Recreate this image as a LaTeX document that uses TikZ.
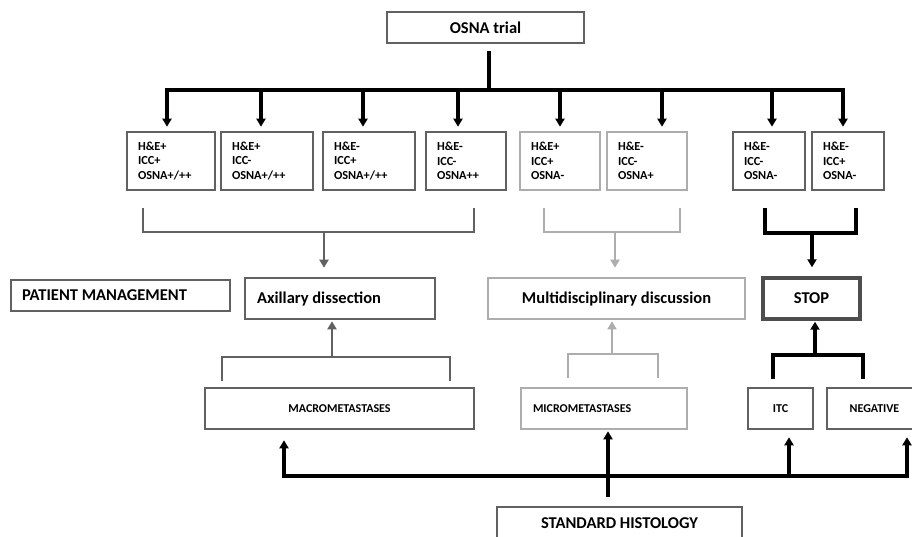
\documentclass[tikz,border=0pt]{standalone}
\usepackage{fontspec}
\setmainfont{Carlito}
\usetikzlibrary{arrows.meta,calc}

\definecolor{darkbox}{gray}{0.38}
\definecolor{lightbox}{gray}{0.68}

\tikzset{
  box/.style={draw=darkbox, line width=2.6pt, inner sep=0pt, font=\bfseries\fontsize{16.5}{19}\selectfont},
  smallbox/.style={box, align=flush left, inner xsep=11pt, minimum height=58pt, font=\bfseries\fontsize{12.3}{14.5}\selectfont},
  capbox/.style={box, minimum height=41pt, font=\bfseries\fontsize{12}{14}\selectfont},
  tip/.style={-{Triangle[width=9pt,length=8pt]}},
  blackline/.style={line width=3.2pt, black},
  grayline/.style={line width=2.6pt, darkbox},
  lightline/.style={line width=2.6pt, lightbox},
}

\begin{document}
\begin{tikzpicture}[x=1pt, y=-1pt]
\useasboundingbox (0,0) rectangle (912,537);

% trial and the eight result boxes
\node[box, line width=2pt, minimum width=197pt, minimum height=31pt] (osna) at (485.5,27.5) {OSNA trial};
\foreach \n/\x/\w/\col/\txt [evaluate=\w as \tw using int(\w-22)] in {
    b1/171/88/darkbox/{H\&E+\\ICC+\\OSNA+/++},
    b2/267/92/darkbox/{H\&E+\\ICC-\\OSNA+/++},
    b3/369/92/darkbox/{H\&E-\\ICC+\\OSNA+/++},
    b4/466/80/darkbox/{H\&E-\\ICC-\\OSNA++},
    b5/560/80/lightbox/{H\&E+\\ICC+\\OSNA-},
    b6/647/80/lightbox/{H\&E-\\ICC-\\OSNA+},
    b7/769/72/darkbox/{H\&E-\\ICC-\\OSNA-},
    b8/848/72/darkbox/{H\&E-\\ICC+\\OSNA-}}
  \node[smallbox, draw=\col, text width=\tw pt] (\n) at (\x,161) {\txt};

\coordinate (bus) at (489,90);
\draw[blackline, shorten <=7pt] (osna.south -| bus) -- (bus);
\draw[blackline, line cap=rect] ($(b1.north |- bus)+(-4,0)$) -- ($(b8.north |- bus)+(-5,0)$);
\foreach \n/\dx in {b1/-4, b2/-6, b3/-6, b4/-8, b5/0, b6/15, b7/3, b8/-5}
  \draw[blackline, tip, shorten >=4pt] ($(\n.north |- bus)+(\dx,0)$) -- ($(\n.north)+(\dx,0)$);

% patient management
\node[box, line width=2pt, align=flush left, inner xsep=11pt, text width=197pt, minimum height=31pt] (pm) at (120.5,295.5) {PATIENT MANAGEMENT};
\node[box, align=flush left, inner xsep=12pt, text width=166pt, minimum height=41pt] (ax) at (340,298.5) {Axillary dissection};
\node[box, draw=lightbox, minimum width=257pt, minimum height=41pt] (md) at (616.5,298.5) {Multidisciplinary discussion};
\node[box, draw=darkbox!80!black, line width=3.4pt, minimum width=97pt, minimum height=41pt] (stop) at (811.5,298.5) {STOP};

\coordinate (g1) at (324,232);
\coordinate (g2) at (615,232);
\coordinate (g3) at (812,233);
\draw[grayline] (143,208) |- (g1) -| (474,208);
\draw[grayline, tip, shorten >=9pt] (g1) -- (g1 |- ax.north);
\draw[lightline] (544,208) |- (g2) -| (680,208);
\draw[lightline, tip, shorten >=9pt] (g2) -- (g2 |- md.north);
\draw[blackline] (765,208) |- (g3) -| (856,208);
\draw[blackline, tip, shorten >=9pt] (g3) -- (g3 |- stop.north);

% standard histology
\node[capbox, minimum width=269pt] (macro) at (339.5,408.5) {MACROMETASTASES};
\node[capbox, draw=lightbox, align=flush left, inner xsep=12pt, text width=142pt] (micro) at (604,408.5) {MICROMETASTASES};
\node[capbox, minimum width=65pt] (itc) at (780.5,408.5) {ITC};
\node[capbox, minimum width=95pt] (neg) at (874.5,408.5) {NEGATIVE};
\node[box, minimum width=245pt, minimum height=33pt] (sh) at (619.5,523.5) {STANDARD HISTOLOGY};

\coordinate (u1) at (332,357);
\coordinate (u2) at (612,354);
\coordinate (u3) at (815,355);
\draw[grayline] (222,381) |- (u1) -| (450,381);
\draw[grayline, tip, shorten >=1pt] (u1) -- (u1 |- ax.south);
\draw[lightline] (568,378) |- (u2) -| (658,378);
\draw[lightline, tip, shorten >=1pt] (u2) -- (u2 |- md.south);
\draw[blackline] (773,379) |- (u3) -| (863,379);
\draw[blackline, tip, shorten >=1pt] (u3) -- (u3 |- stop.south);

\coordinate (h) at (608,476);
\coordinate (hl) at (284,476);
\coordinate (hi) at (789,476);
\coordinate (hr) at (907,476);
\draw[blackline, tip, shorten <=9pt, shorten >=1pt] (sh.north -| h) -- (h |- micro.south);
\draw[blackline, tip, shorten >=10pt] (h) -| (hl |- macro.south);
\draw[blackline, tip, shorten >=7pt] (h) -| (hr |- neg.south);
\draw[blackline, tip, shorten >=7pt] (hi) -- (hi |- itc.south);
\end{tikzpicture}
\end{document}
